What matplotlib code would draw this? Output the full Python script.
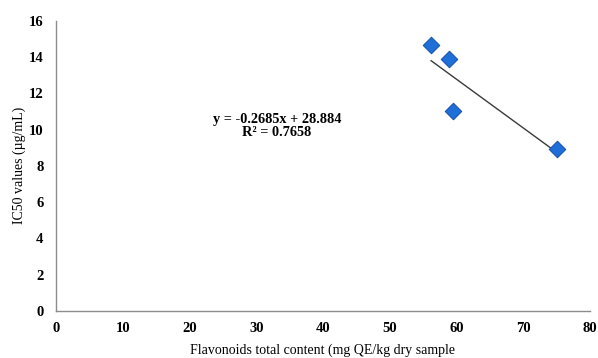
import matplotlib
matplotlib.use("Agg")
import matplotlib.pyplot as plt
import numpy as np

flavonoids = [56.2, 58.9, 59.5, 75.1]
ic50 = [14.65, 13.88, 11.03, 8.92]
slope = -0.2685
intercept = 28.884
r2 = 0.7658
xticks = [0, 10, 20, 30, 40, 50, 60, 70, 80]
yticks = [0, 2, 4, 6, 8, 10, 12, 14, 16]

plt.rcParams['font.family'] = ['Liberation Serif', 'DejaVu Serif']

fig = plt.figure(figsize=(5.98, 3.58), dpi=100)
ax = fig.add_axes([56/598, 47/358, (590-56)/598, (311-20.7)/358])

xs = np.array([min(flavonoids), max(flavonoids)])
ax.plot(xs, slope*xs + intercept, color='#3a3a3a', lw=1.0, zorder=2)
ax.scatter(flavonoids, ic50, marker='D', s=70, color='#1F6FD9',
           edgecolors='#1A55B0', linewidths=0.8, zorder=3)

ax.set_xlim(0, 80)
ax.set_ylim(0, 16)
ax.set_xticks(xticks)
ax.set_yticks(yticks)
ax.tick_params(length=0, labelsize=10.5)
ax.tick_params(axis='x', pad=8)
ax.tick_params(axis='y', pad=9)
for lab in ax.get_xticklabels() + ax.get_yticklabels():
    lab.set_fontweight('bold')
for s in ['top', 'right']:
    ax.spines[s].set_visible(False)
for s in ['left', 'bottom']:
    ax.spines[s].set_color('#8c8c8c')
    ax.spines[s].set_linewidth(1.0)

ax.text(33.1, 10.22, f"y = {slope}x + {intercept}\nR² = {r2}", ha='center', va='center',
        fontsize=10.3, fontweight='bold', linespacing=1.0)

ax.set_xlabel("Flavonoids total content (mg QE/kg dry sample", fontsize=10, labelpad=6)
ax.set_ylabel("IC50 values (µg/mL)", fontsize=10, labelpad=2)

fig.savefig("out.png", dpi=100)
